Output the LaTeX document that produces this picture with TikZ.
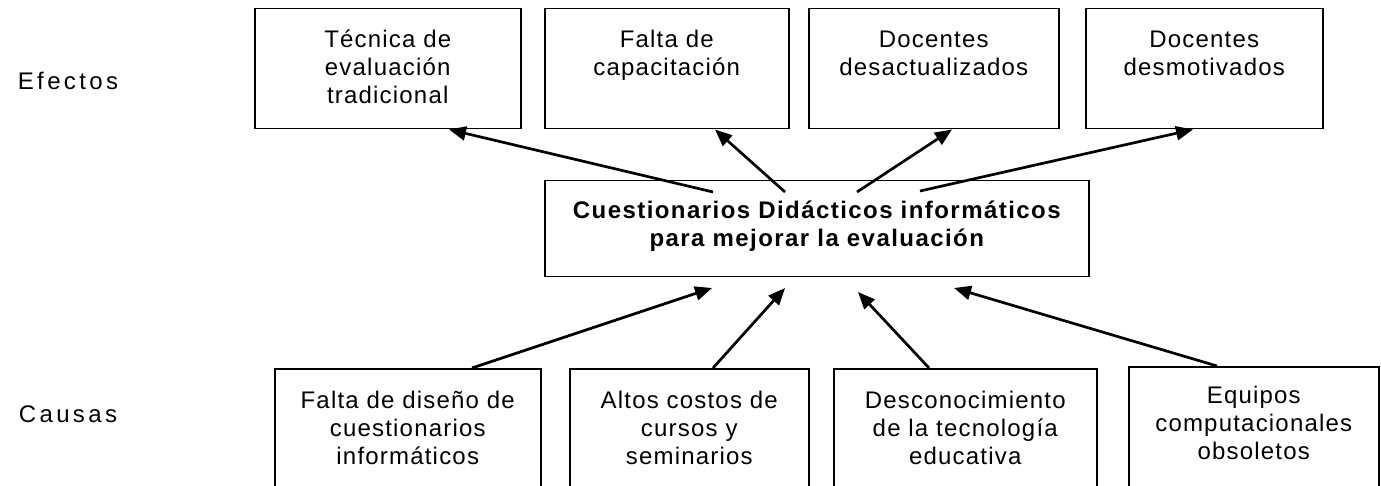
\documentclass[tikz,border=0pt]{standalone}
\usepackage{fontspec}
\setmainfont{Liberation Sans}
\newfontfamily\cajafont[LetterSpace=5]{Liberation Sans}
\newfontfamily\rotfont[LetterSpace=14]{Liberation Sans}
\usetikzlibrary{arrows.meta,calc}
\newcommand{\lineas}[4]{\parbox[t][#2][t]{#1}{\centering\rule{0pt}{#3}#4}}
\tikzset{
  caja/.style={draw, line width=1.5pt, inner sep=0pt, anchor=north west, font=\cajafont\fontsize{24}{28}\selectfont},
  rotulo/.style={anchor=base, inner sep=0pt, font=\rotfont\fontsize{24}{28}\selectfont},
  flecha/.style={line width=2.7pt, -{Triangle[length=17pt,width=14pt]}},
}
\begin{document}
\begin{tikzpicture}[x=1pt,y=-1pt]
\useasboundingbox (0,0) rectangle (1381,486);
\node[rotulo] (efectos) at (68,90){Efectos};
\node[rotulo] (causas) at (68,422){Causas};
\node[caja] (ef1) at (254,8){\lineas{266pt}{120pt}{39pt}{Técnica de\\evaluación\\tradicional}};
\node[caja] (ef2) at (544,8){\lineas{244pt}{120pt}{39pt}{Falta de\\capacitación}};
\node[caja] (ef3) at (808,8){\lineas{250pt}{120pt}{39pt}{Docentes\\desactualizados}};
\node[caja] (ef4) at (1085,8){\lineas{237pt}{120pt}{39pt}{Docentes\\desmotivados}};
\node[caja] (centro) at (544,180){\lineas{544pt}{96pt}{38pt}{\bfseries\addfontfeature{LetterSpace=6}Cuestionarios Didácticos informáticos\\para mejorar la evaluación}};
\node[caja] (ca1) at (274,368){\lineas{266pt}{140pt}{40pt}{Falta de diseño de\\cuestionarios\\informáticos}};
\node[caja] (ca2) at (569,368){\lineas{239pt}{140pt}{40pt}{Altos costos de\\cursos y\\seminarios}};
\node[caja] (ca3) at (833,368){\lineas{263pt}{140pt}{40pt}{Desconocimiento\\de la tecnología\\educativa}};
\node[caja] (ca4) at (1128,366){\lineas{250pt}{140pt}{37pt}{Equipos\\computacionales\\obsoletos}};
\coordinate (a1) at (713,192);
\coordinate (a2) at (785,192);
\coordinate (a3) at (857,192);
\coordinate (a4) at (920,191);
\coordinate (b1) at (712,288);
\coordinate (b2) at (785,288);
\coordinate (b3) at (858,292);
\coordinate (b4) at (954,288);
\draw[flecha] (a1) -- ($(ef1.south west)+(195,0)$);
\draw[flecha] (a2) -- ($(ef2.south west)+(171,0)$);
\draw[flecha] (a3) -- ($(ef3.south west)+(144,0)$);
\draw[flecha] (a4) -- ($(ef4.south west)+(108,0)$);
\draw[flecha] ($(ca1.north west)+(198,0)$) -- (b1);
\draw[flecha] ($(ca2.north west)+(144,0)$) -- (b2);
\draw[flecha] ($(ca3.north west)+(96,0)$) -- (b3);
\draw[flecha] ($(ca4.north west)+(89,0)$) -- (b4);
\end{tikzpicture}
\end{document}
